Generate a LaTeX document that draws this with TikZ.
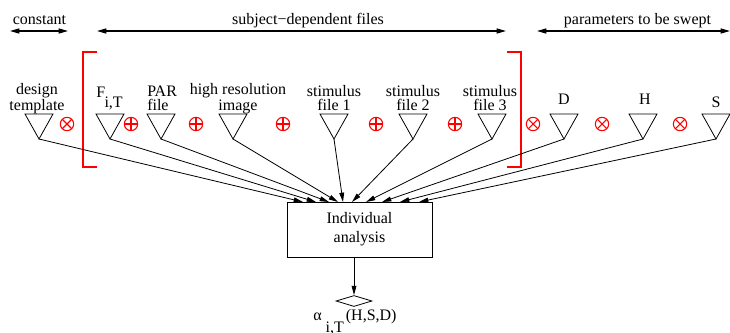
\documentclass[tikz,border=0pt]{standalone}
\usepackage{fontspec}
\setmainfont{Liberation Serif}
\usetikzlibrary{arrows.meta,shapes.geometric}
\begin{document}
\begin{tikzpicture}[x=0.75pt,y=-0.75pt,
  lbl/.style={font=\fontsize{12pt}{10.5pt}\selectfont, inner sep=0pt, align=center},
  tri/.style={draw, line width=0.6pt, line join=miter},
  feed/.style={draw, line width=0.6pt, -{Triangle[length=7pt,width=3.6pt]}},
  span/.style={draw, line width=0.9pt, {Triangle[length=7pt,width=3.8pt]}-{Triangle[length=7pt,width=3.8pt]}},
  brk/.style={draw=red, line width=1.1pt},
  op/.style={draw=red, line width=0.8pt}]
\useasboundingbox (0,0) rectangle (730,332);
\clip (0,0) rectangle (730,332);

% group headings with their extent arrows
\node[lbl, anchor=base] (lconst) at (39.5,24) {constant};
\node[lbl, anchor=base] (lsubj) at (308,24) {subject−dependent files};
\node[lbl, anchor=base] (lpar) at (637.5,24) {parameters to be swept};
\coordinate (ca) at (10,31);  \coordinate (cb) at (68,31);
\coordinate (sa) at (97,31);  \coordinate (sb) at (506,31);
\coordinate (pa) at (537,31); \coordinate (pb) at (730,31);
\draw[span] (ca) -- (cb);
\draw[span] (sa) -- (sb);
\draw[span] (pa) -- (pb);

% red bracket around the subject files
\draw[brk] (97,52) -- (83,52) -- (83,167) -- (97,167);
\draw[brk] (507,52) -- (521,52) -- (521,167) -- (507,167);

% input triangles, apex points named
\foreach \n/\x in {dt/39, fi/110, pf/161, hr/233, sa1/334, sa2/413, sa3/492, pd/564, ph/643, ps/716} {
  \draw[tri] (\x-14,114) -- (\x+14,114) -- (\x,139) -- cycle;
  \coordinate (\n) at (\x,139);
}

% input labels (base anchor sits on the last line)
\node[lbl, anchor=base] (ldt) at (37,110) {design\\template};
\node[lbl, anchor=base west] (lfi) at (96,97) {F\kern-0.5pt\raisebox{-7.5pt}{i,T}};
\node[lbl, align=left, anchor=base west] (lpf) at (147,110) {PAR\\file};
\node[lbl, anchor=base] (lhr) at (238,110) {high resolution\\image};
\node[lbl, anchor=base] (ls1) at (334,110) {stimulus\\file 1};
\node[lbl, anchor=base] (ls2) at (413,110) {stimulus\\file 2};
\node[lbl, anchor=base] (ls3) at (490,110) {stimulus\\file 3};
\node[lbl, anchor=base] (lpd) at (564,104) {D};
\node[lbl, anchor=base] (lph) at (645,104) {H};
\node[lbl, anchor=base] (lps) at (716,107) {S};

% combination operators
\foreach \x in {67,533,602,680} {
  \draw[op] (\x,124) circle[radius=5pt];
  \draw[op] (\x,124) ++(-3.6pt,-3.6pt) -- ++(7.2pt,7.2pt);
  \draw[op] (\x,124) ++(-3.6pt,3.6pt) -- ++(7.2pt,-7.2pt);
}
\foreach \x in {131,196,283,376,455} {
  \draw[op] (\x,124) circle[radius=5pt];
  \draw[op] (\x,124) ++(-5pt,0pt) -- ++(10pt,0pt);
  \draw[op] (\x,124) ++(0pt,-5pt) -- ++(0pt,10pt);
}

% analysis box and output
\node[draw, line width=0.6pt, minimum width=108.75pt, minimum height=41.25pt,
      inner sep=0pt, align=center, font=\fontsize{12pt}{14pt}\selectfont]
      (ia) at (359.5,229.5) {Individual\\analysis};
\node[draw, diamond, line width=0.6pt, minimum width=27pt, minimum height=8.25pt,
      inner sep=0pt] (out) at (354,301) {};
\node[lbl, anchor=base west] (lout) at (313,320)
  {α\kern3pt\raisebox{-9pt}{i,T}\kern1.5pt(H,S,D)};

% entry points on the top of the box
\foreach \n/\x in {edt/303, efi/316, epf/329, ehr/338, es1/343, es2/352, es3/366, epd/382, eph/400, eps/419} {
  \coordinate (\n) at (\x,202);
}
\draw[feed] (dt) -- (edt);
\draw[feed] (fi) -- (efi);
\draw[feed] (pf) -- (epf);
\draw[feed] (hr) -- (ehr);
\draw[feed] (sa1) -- (es1);
\draw[feed] (sa2) -- (es2);
\draw[feed] (sa3) -- (es3);
\draw[feed] (pd) -- (epd);
\draw[feed] (ph) -- (eph);
\draw[feed] (ps) -- (eps);
\draw[feed] (ia.south -| out.north) -- (out.north);
\end{tikzpicture}
\end{document}
